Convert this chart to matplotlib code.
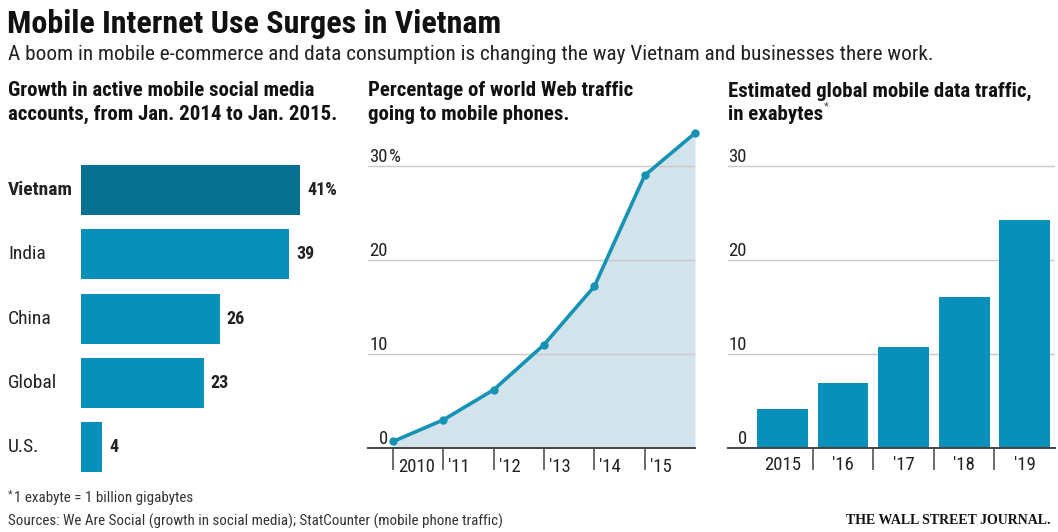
import matplotlib
matplotlib.use("Agg")
import matplotlib.pyplot as plt
from matplotlib.transforms import blended_transform_factory

plt.rcParams["font.family"] = ["Roboto Condensed", "DejaVu Sans"]

# data
countries = ["Vietnam", "India", "China", "Global", "U.S."]
growth = [41, 39, 26, 23, 4]
growth_labels = ["41%", "39", "26", "23", "4"]

years = [2010, 2011, 2012, 2013, 2014, 2015, 2016]
mobile_share = [0.7, 3.0, 6.2, 11.0, 17.2, 29.0, 33.5]
year_labels = ["2010", "'11", "'12", "'13", "'14", "'15"]

traffic_years = ["2015", "'16", "'17", "'18", "'19"]
exabytes = [4.2, 6.9, 10.7, 16.1, 24.3]

W, H = 1058, 532
DARK = "#05708f"
BLUE = "#0890bb"
TEXT = "#222222"
GRID = "#c9c9c9"
AXIS = "#444444"


def rect(x0, y0, x1, y1):
    """pixel box (top-left origin) -> figure fraction"""
    return [x0 / W, 1 - y1 / H, (x1 - x0) / W, (y1 - y0) / H]


def ftext(x, y, s, **kw):
    return fig.text(x / W, 1 - y / H, s, **kw)


fig = plt.figure(figsize=(W / 100, H / 100), dpi=100)
renderer = fig.canvas.get_renderer()

# headings
ftext(7, 24, "Mobile Internet Use Surges in Vietnam", fontsize=23, weight="bold",
      color="#111111", va="center")
ftext(8, 54, "A boom in mobile e-commerce and data consumption is changing the way "
      "Vietnam and businesses there work.", fontsize=15.3, color=TEXT, va="center")
heads = [(8, "Growth in active mobile social media", "accounts, from Jan. 2014 to Jan. 2015."),
         (368, "Percentage of world Web traffic", "going to mobile phones."),
         (728, "Estimated global mobile data traffic,", "in exabytes")]
for x, l1, l2 in heads:
    ftext(x, 91, l1, fontsize=15, weight="bold", color="#111111", va="center")
    t = ftext(x, 114, l2, fontsize=15, weight="bold", color="#111111", va="center")
# small raised asterisk after "in exabytes"
bb = t.get_window_extent(renderer)
ftext(bb.x1 + 1, 106, "*", fontsize=8, color="#444444", va="center")

# left: horizontal bars
ax1 = fig.add_axes(rect(81, 158, 360, 480))
ypos = list(range(len(countries)))
colors = [DARK] + [BLUE] * (len(countries) - 1)
ax1.barh(ypos, growth, height=0.78, color=colors)
ax1.set_xlim(0, 279 / 5.34)
ax1.set_ylim(4.51, -0.5)
ax1.axis("off")
tr = blended_transform_factory(fig.transFigure, ax1.transData)
for i, (c, v, lab) in enumerate(zip(countries, growth, growth_labels)):
    ax1.text(8 / W, i, c, transform=tr, va="center", ha="left", fontsize=14,
             color=TEXT, weight="bold" if i == 0 else "normal")
    ax1.annotate(lab, (v, i), xytext=(5, 0), textcoords="offset points",
                 va="center", ha="left", fontsize=13, weight="bold", color=TEXT)

# middle: area line
ax2 = fig.add_axes(rect(368, 130, 695, 448))
ax2.fill_between(years, mobile_share, color="#d2e3ec", lw=0)
ax2.plot(years, mobile_share, color="#1592b4", lw=2.6, marker="o", ms=5,
         clip_on=False, zorder=4)
ax2.set_xlim(2009.5, 2016)
ax2.set_ylim(0, (448 - 130) / 9.4)

# right: bars
ax3 = fig.add_axes(rect(728, 130, 1055, 448))
xpos = list(range(len(traffic_years)))
ax3.bar(xpos, exabytes, width=0.84, color=BLUE, zorder=3)
ax3.set_xlim(-0.9, 4.5)
ax3.set_ylim(0, (448 - 130) / 9.4)

for ax in (ax2, ax3):
    for s in ("top", "right", "left"):
        ax.spines[s].set_visible(False)
    ax.spines["bottom"].set_color(AXIS)
    ax.spines["bottom"].set_linewidth(1.4)
    ax.spines["bottom"].set_zorder(5)
    for g in (10, 20, 30):
        ax.axhline(g, color=GRID, lw=1, zorder=1)
    ax.set_yticks([])
    ax.tick_params(axis="x", length=16, width=1.1, color=AXIS, labelbottom=False)

ax2.set_xticks(years[:-1])
ax3.set_xticks([0.5, 1.5, 2.5, 3.5])

# y labels
tr2 = blended_transform_factory(fig.transFigure, ax2.transData)
for g in (0, 10, 20, 30):
    ax2.text(388 / W, g, str(g), transform=tr2, ha="right", va="bottom",
             fontsize=13.5, color=TEXT)
ax2.text(389 / W, 30, "%", transform=tr2, ha="left", va="bottom", fontsize=13.5,
         color=TEXT)
tr3 = blended_transform_factory(fig.transFigure, ax3.transData)
for g in (0, 10, 20, 30):
    ax3.text(747 / W, g, str(g), transform=tr3, ha="right", va="bottom",
             fontsize=13.5, color=TEXT)

# x labels
for yr, lab in zip(years, year_labels):
    ax2.annotate(lab, (yr, 0), xytext=(3.5, -13.5), textcoords="offset points",
                 ha="left", va="center", fontsize=13.5, color=TEXT)
for x, lab in zip(xpos, traffic_years):
    ax3.annotate(lab, (x, 0), xytext=(0, -12.5), textcoords="offset points",
                 ha="center", va="center", fontsize=13.5, color=TEXT)

# footer
ftext(8, 494, "*", fontsize=8, color="#444444", va="center")
ftext(14, 498, "1 exabyte = 1 billion gigabytes", fontsize=10.8,
      color="#333333", va="center")
ftext(8, 521, "Sources: We Are Social (growth in social media); StatCounter "
      "(mobile phone traffic)", fontsize=10.8, color="#333333", va="center")
ftext(1050, 521, "THE WALL STREET JOURNAL.", fontsize=10, weight="bold",
      family="Liberation Serif", color="#111111", ha="right", va="center")

fig.savefig("out.png", dpi=100)
